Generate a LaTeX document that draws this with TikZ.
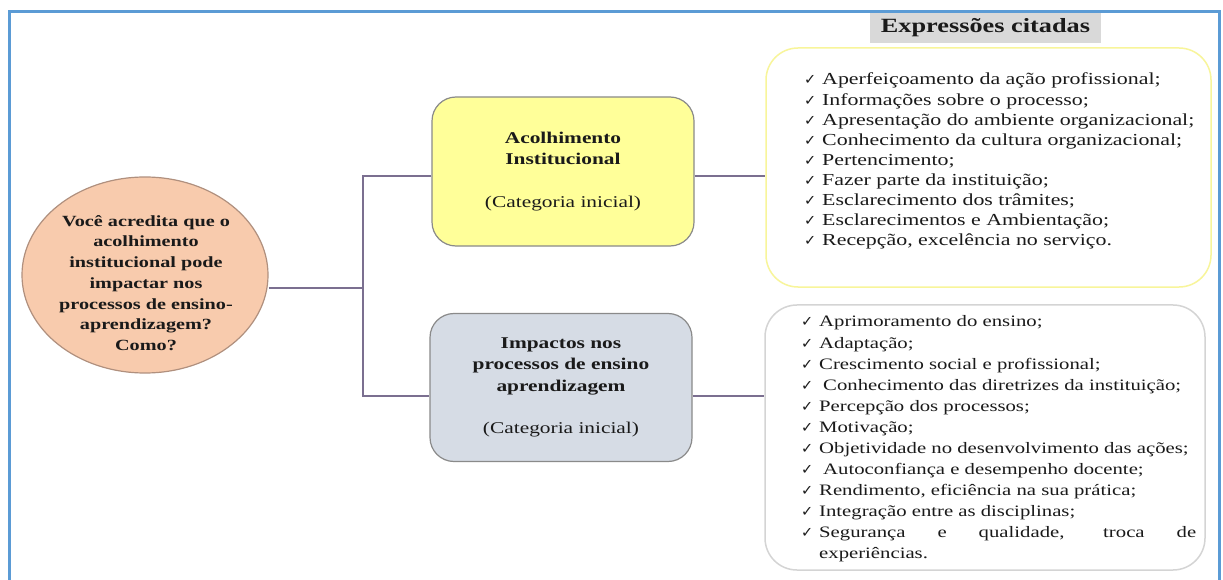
\documentclass[tikz,border=0pt]{standalone}
\usepackage{fontspec}
\setmainfont{Liberation Serif}[FakeStretch=1.3]
\newfontfamily\symf{DejaVu Sans}
\usetikzlibrary{shapes.geometric}
\definecolor{frameblue}{HTML}{5B9BD5}
\definecolor{peach}{HTML}{F8CBAD}
\definecolor{peachline}{HTML}{B0907E}
\definecolor{yel}{HTML}{FFFF99}
\definecolor{yelline}{HTML}{F8F59A}
\definecolor{bluegray}{HTML}{D6DCE5}
\definecolor{boxline}{HTML}{8A8A8A}
\definecolor{exgray}{HTML}{D4D4D4}
\definecolor{conn}{HTML}{7B6F90}
\definecolor{titlegray}{HTML}{D9D9D9}
\definecolor{ink}{HTML}{1A1A1A}
\newcommand\ck{\makebox[18bp][l]{\symf\fontsize{14.5}{14.5}\selectfont ✓}}
\begin{document}
\begin{tikzpicture}[x=1bp,y=-1bp,
  frame/.style={draw=frameblue,line width=3bp},
  qnode/.style={ellipse,draw=peachline,fill=peach,line width=1.2bp,minimum width=246bp,minimum height=196bp,inner sep=0},
  qtext/.style={align=center,text=ink,inner sep=0,font=\bfseries\fontsize{15.6}{20.8}\selectfont},
  catbox/.style={rectangle,rounded corners=24bp,draw=boxline,line width=1.2bp,minimum width=262bp,minimum height=149bp,align=center,text=ink,font=\fontsize{16.5}{21.5}\selectfont},
  exbox/.style={rectangle,rounded corners=32bp,fill=white,line width=1.5bp},
  titlebox/.style={rectangle,fill=titlegray,minimum width=231bp,minimum height=30bp,inner sep=0,text=ink,font=\bfseries\fontsize{20.3}{24}\selectfont},
  listnode/.style={anchor=base west,inner sep=0,text=ink},
  connector/.style={draw=conn,line width=2bp}]
\useasboundingbox (0,0) rectangle (1223,580);
\fill[white] (0,0) rectangle (1223,580);
\draw[frame] (9,600) -- (9,12) -- (1219,12) -- (1219,600);

% question
\node[qnode] (q) at (145,275) {};
\node[qtext] (qt) at (146,283) {Você acredita que o\\acolhimento\\institucional pode\\impactar nos\\processos de ensino-\\aprendizagem?\\Como?};

% categories
\node[catbox,fill=yel] (b1) at (563,171.5) {\textbf{Acolhimento}\\\textbf{Institucional}\\[21.5bp](Categoria inicial)};
\node[catbox,fill=bluegray,minimum height=148bp] (b2) at (561,387.5) {\textbf{Impactos nos}\\\textbf{processos de ensino}\\\textbf{aprendizagem}\\[21bp](Categoria inicial)};

% expression boxes
\node[exbox,draw=yelline,minimum width=445bp,minimum height=239bp] (e1) at (988.5,167.5) {};
\node[exbox,draw=exgray,minimum width=440bp,minimum height=265bp] (e2) at (985,437.5) {};
\node[titlebox] (t) at (985.5,28) {Expressões citadas};

\node[listnode] (l1) at (804,85) {\fontsize{16.9}{20.1}\selectfont
\begin{tabular}[t]{@{}l@{}l@{}}
\ck & Aperfeiçoamento da ação profissional;\\
\ck & Informações sobre o processo;\\
\ck & Apresentação do ambiente organizacional;\\
\ck & Conhecimento da cultura organizacional;\\
\ck & Pertencimento;\\
\ck & Fazer parte da instituição;\\
\ck & Esclarecimento dos trâmites;\\
\ck & Esclarecimentos e Ambientação;\\
\ck & Recepção, excelência no serviço.
\end{tabular}};

\node[listnode] (l2) at (801,327) {\fontsize{16.0}{21.1}\selectfont
\begin{tabular}[t]{@{}l@{}l@{}}
\ck & Aprimoramento do ensino;\\
\ck & Adaptação;\\
\ck & Crescimento social e profissional;\\
\ck & \hspace{4bp}Conhecimento das diretrizes da instituição;\\
\ck & Percepção dos processos;\\
\ck & Motivação;\\
\ck & Objetividade no desenvolvimento das ações;\\
\ck & \hspace{4bp}Autoconfiança e desempenho docente;\\
\ck & Rendimento, eficiência na sua prática;\\
\ck & Integração entre as disciplinas;\\
\ck & \makebox[377bp][s]{Segurança e qualidade, troca de}\\
    & experiências.
\end{tabular}};

% connectors
\coordinate (j0) at (363,288);
\coordinate (j1) at (363,176);
\coordinate (j2) at (363,396);
\draw[connector] (j0 -| q.east) -- (j0);
\draw[connector] (j1 -| b1.west) -- (j1) -- (j2) -- (j2 -| b2.west);
\draw[connector] (b1.east |- j1) -- (e1.west |- j1);
\draw[connector] (b2.east |- j2) -- (e2.west |- j2);
\end{tikzpicture}
\end{document}
